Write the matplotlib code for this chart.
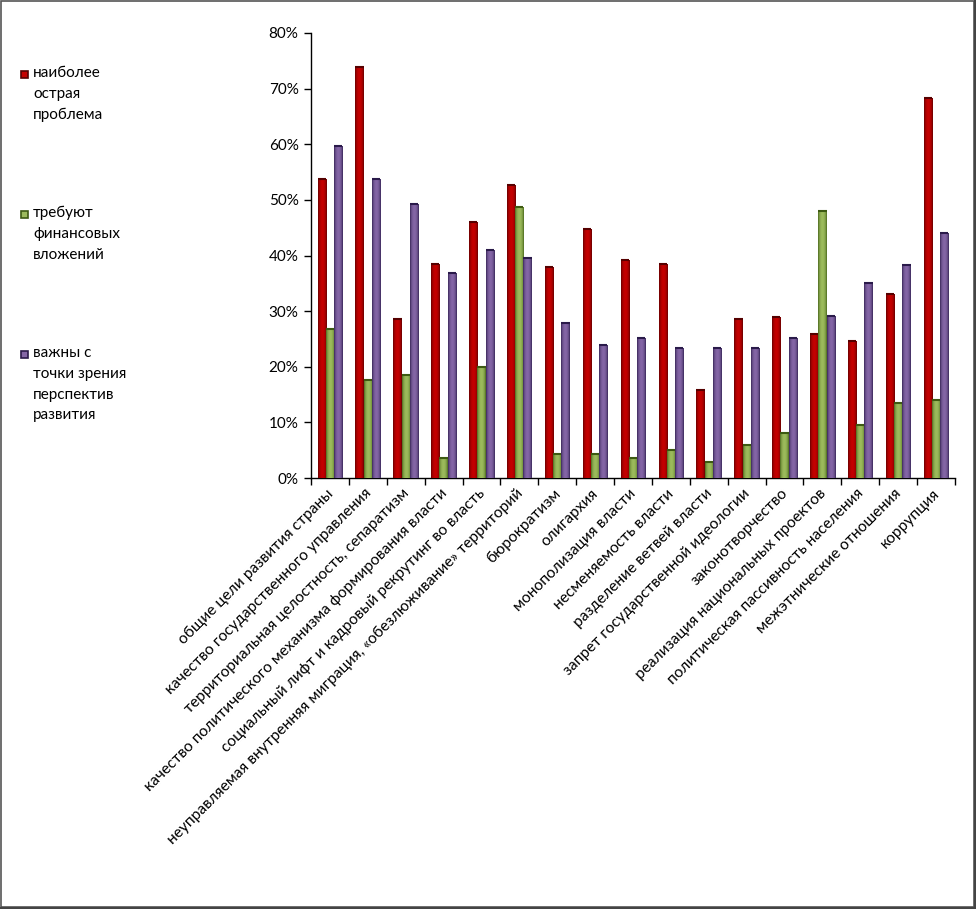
import numpy as np
import matplotlib
matplotlib.use("Agg")
import matplotlib.pyplot as plt
from matplotlib.patches import Rectangle
from matplotlib.colors import to_rgb

plt.rcParams['font.family'] = ['Lato', 'Noto Sans', 'DejaVu Sans']

categories = [
    "общие цели развития страны",
    "качество государственного управления",
    "территориальная целостность, сепаратизм",
    "качество политического механизма формирования власти",
    "социальный лифт и кадровый рекрутинг во власть",
    "неуправляемая внутренняя миграция, «обезлюживание» территорий",
    "бюрократизм",
    "олигархия",
    "монополизация власти",
    "несменяемость власти",
    "разделение ветвей власти",
    "запрет государственной идеологии",
    "законотворчество",
    "реализация национальных проектов",
    "политическая пассивность населения",
    "межэтнические отношения",
    "коррупция",
]
acute = [53.8, 73.9, 28.5, 38.5, 46.1, 52.6, 38.0, 44.8, 39.2, 38.5, 15.9, 28.5, 29.0, 25.9, 24.7, 33.0, 68.4]
finance = [26.7, 17.7, 18.6, 3.6, 20.0, 48.7, 4.4, 4.4, 3.6, 5.1, 2.9, 6.0, 8.1, 48.0, 9.5, 13.4, 14.1]
prospects = [59.7, 53.8, 49.3, 36.8, 40.9, 39.6, 27.9, 23.9, 25.2, 23.4, 23.4, 23.4, 25.2, 29.2, 35.1, 38.3, 44.1]

series_names = ["наиболее\nострая\nпроблема",
                "требуют\nфинансовых\nвложений",
                "важны с\nточки зрения\nперспектив\nразвития"]
# (dark edge, bright centre)
series_colors = [("#560000", "#c40000"),
                 ("#3d5a12", "#9cbb5c"),
                 ("#2a1a4a", "#8466a6")]

fig = plt.figure(figsize=(9.76, 9.09), dpi=100)
ax = fig.add_axes([311/976, 1-478/909, (955-311)/976, (478-33)/909])

x = np.arange(len(categories))
bw = 0.217
data = [acute, finance, prospects]


def gradient_bar(rect, dark, bright):
    x0 = rect.get_x()
    w = rect.get_width()
    h = rect.get_height()
    if h <= 0:
        return
    t = np.linspace(0, 1, 64)
    f = np.clip(np.sin(np.pi * t) ** 0.55, 0, 1)
    d = np.array(to_rgb(dark))
    b = np.array(to_rgb(bright))
    row = d[None, :] * (1 - f[:, None]) + b[None, :] * f[:, None]
    img = np.repeat(row[None, :, :], 2, axis=0)
    im = ax.imshow(img, extent=[x0, x0 + w, 0, h], aspect='auto',
                   interpolation='bilinear', zorder=3, origin='lower')
    im.set_clip_path(rect)
    ax.plot([x0, x0 + w], [h, h], color=dark, lw=1.5, zorder=4,
            solid_capstyle='butt')


for i, (vals, (dark, bright)) in enumerate(zip(data, series_colors)):
    bars = ax.bar(x + (i - 1) * bw, vals, bw, color=bright, zorder=2,
                  linewidth=0)
    for r in bars:
        gradient_bar(r, dark, bright)

ax.set_xlim(-0.5, len(categories) - 0.5)
ax.set_ylim(0, 80)
ax.set_yticks(np.arange(0, 81, 10))
ax.set_yticklabels([f"{v}%" for v in range(0, 81, 10)], fontsize=11)
ax.set_xticks(np.arange(-0.5, len(categories), 1.0))
ax.set_xticklabels([])
# labels sit slightly right of the category centre, as in the original
ax.set_xticks(x + 0.16, minor=True)
ax.set_xticklabels(categories, minor=True, rotation=45, ha='right',
                   va='top', fontsize=11.2, rotation_mode='default')
ax.tick_params(axis='x', which='minor', length=0, pad=6)
ax.tick_params(axis='x', which='major', length=5, width=1, direction='out')
ax.tick_params(axis='y', length=5, width=1, direction='out', pad=4)
for s in ['top', 'right']:
    ax.spines[s].set_visible(False)
for s in ['left', 'bottom']:
    ax.spines[s].set_linewidth(1)

# legend (manual, Excel-like with top-aligned markers)
leg_y = [74, 214, 354]
for name, (dark, bright), yy in zip(series_names, series_colors, leg_y):
    fig.patches.append(Rectangle((21/976, 1-(yy+4)/909), 7/976, 7/909,
                                 transform=fig.transFigure, facecolor=bright,
                                 edgecolor=dark, linewidth=1.2))
    fig.text(33/976, 1-(yy-8)/909, name, fontsize=11, va='top', ha='left',
             linespacing=1.62)

# outer frame
fig.patches.append(Rectangle((0.5/976, 2/909), 973/976, 906/909,
                             transform=fig.transFigure, fill=False,
                             edgecolor='#555555', linewidth=1.2))
fig.patches.append(Rectangle((974/976, 0), 2/976, 1,
                             transform=fig.transFigure, facecolor='#444444',
                             edgecolor='none'))
fig.patches.append(Rectangle((0, 0), 1, 2/909,
                             transform=fig.transFigure, facecolor='#444444',
                             edgecolor='none'))

fig.savefig("out.png", dpi=100)
